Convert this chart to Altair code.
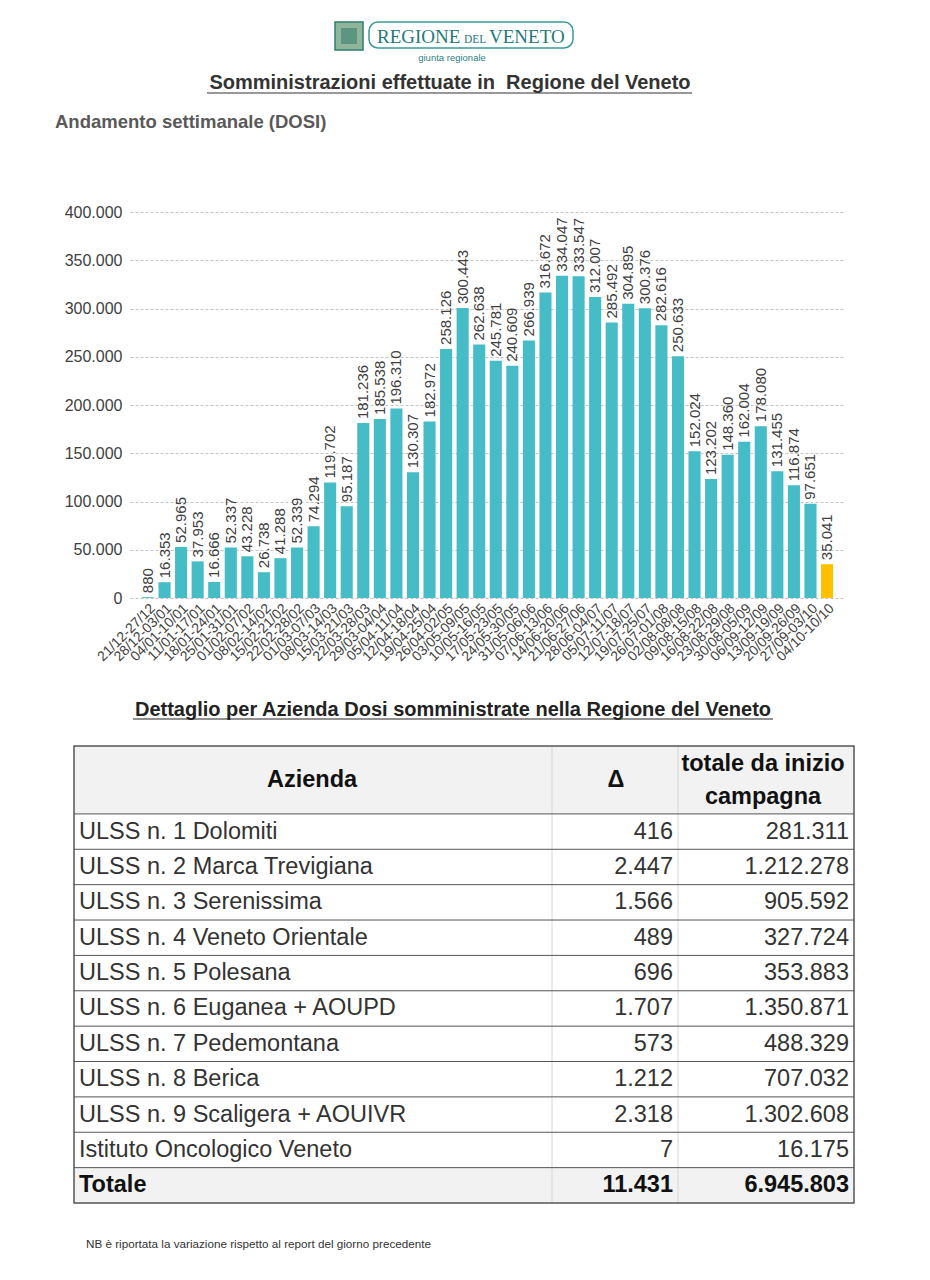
import altair as alt
import pandas as pd

# ---------------- data ----------------
weeks = [
    "21/12-27/12", "28/12-03/01", "04/01-10/01", "11/01-17/01", "18/01-24/01",
    "25/01-31/01", "01/02-07/02", "08/02-14/02", "15/02-21/02", "22/02-28/02",
    "01/03-07/03", "08/03-14/03", "15/03-21/03", "22/03-28/03", "29/03-04/04",
    "05/04-11/04", "12/04-18/04", "19/04-25/04", "26/04-02/05", "03/05-09/05",
    "10/05-16/05", "17/05-23/05", "24/05-30/05", "31/05-06/06", "07/06-13/06",
    "14/06-20/06", "21/06-27/06", "28/06-04/07", "05/07-11/07", "12/07-18/07",
    "19/07-25/07", "26/07-01/08", "02/08-08/08", "09/08-15/08", "16/08-22/08",
    "23/08-29/08", "30/08-05/09", "06/09-12/09", "13/09-19/09", "20/09-26/09",
    "27/09-03/10", "04/10-10/10",
]
doses = [
    880, 16353, 52965, 37953, 16666, 52337, 43228, 26738, 41288, 52339,
    74294, 119702, 95187, 181236, 185538, 196310, 130307, 182972, 258126, 300443,
    262638, 245781, 240609, 266939, 316672, 334047, 333547, 312007, 285492, 304895,
    300376, 282616, 250633, 152024, 123202, 148360, 162004, 178080, 131455, 116874,
    97651, 35041,
]
y_ticks = [0, 50000, 100000, 150000, 200000, 250000, 300000, 350000, 400000]

aziende = [
    "ULSS n. 1 Dolomiti", "ULSS n. 2 Marca Trevigiana", "ULSS n. 3 Serenissima",
    "ULSS n. 4 Veneto Orientale", "ULSS n. 5 Polesana", "ULSS n. 6 Euganea + AOUPD",
    "ULSS n. 7 Pedemontana", "ULSS n. 8 Berica", "ULSS n. 9 Scaligera + AOUIVR",
    "Istituto Oncologico Veneto",
]
delta = [416, 2447, 1566, 489, 696, 1707, 573, 1212, 2318, 7]
totale = [281311, 1212278, 905592, 327724, 353883, 1350871, 488329, 707032, 1302608, 16175]
totale_delta = 11431
totale_campagna = 6945803


def itfmt(v):
    return f"{v:,}".replace(",", ".")


FONT = "Liberation Sans"
TEAL = "#45BCC6"
ORANGE = "#FFC000"
TXT = "#404040"

# ---------------- bar chart ----------------
bars_df = pd.DataFrame({
    "week": weeks,
    "dosi": doses,
    "label": [itfmt(v) for v in doses],
    "tipo": ["parziale" if i == len(weeks) - 1 else "completa" for i in range(len(weeks))],
})

x_enc = alt.X(
    "week:N", sort=weeks,
    scale=alt.Scale(paddingInner=0.27, paddingOuter=0.72),
    axis=alt.Axis(title=None, labelAngle=-45, ticks=False, domain=False,
                  labelFontSize=14, labelColor=TXT, labelPadding=3, labelFont=FONT),
)
y_enc = alt.Y(
    "dosi:Q",
    scale=alt.Scale(domain=[0, 400000]),
    axis=alt.Axis(title=None, values=y_ticks, ticks=False, domain=False,
                  grid=True, gridDash=[3, 2], gridColor="#c4c4c4", gridWidth=1,
                  labelFontSize=16, labelColor=TXT, labelPadding=8, labelFont=FONT,
                  labelExpr="join(split(format(datum.value, ','), ','), '.')"),
)

bars = alt.Chart(bars_df).mark_bar().encode(
    x=x_enc, y=y_enc,
    color=alt.Color("tipo:N", scale=alt.Scale(domain=["completa", "parziale"],
                                              range=[TEAL, ORANGE]), legend=None),
)
bar_labels = alt.Chart(bars_df).mark_text(
    angle=270, align="left", baseline="middle", dx=4, fontSize=15,
    color=TXT, font=FONT,
).encode(x=alt.X("week:N", sort=weeks), y="dosi:Q", text="label:N")

one = alt.Data(values=[{"k": 0}])


def txt(s, x, y, **kw):
    return alt.Chart(one).mark_text(text=s, **kw).encode(x=alt.value(x), y=alt.value(y))


def box(x1, x2, y1, y2, **kw):
    return alt.Chart(one).mark_rect(**kw).encode(
        x=alt.value(x1), x2=alt.value(x2), y=alt.value(y1), y2=alt.value(y2))


def hline(x1, x2, y, **kw):
    return alt.Chart(one).mark_rule(**kw).encode(
        x=alt.value(x1), x2=alt.value(x2), y=alt.value(y))


header = [
    box(205, 233, -190, -162, fill="#8fb59c", stroke="#2f7f6f", strokeWidth=1.5),
    box(211, 227, -184, -168, fill="#4f8f7a", opacity=0.8),
    box(239, 443, -190, -164, fill="white", stroke="#3b9a9a", strokeWidth=1.5, cornerRadius=9),
    txt("REGIONE", 247, -169.5, align="left", baseline="alphabetic", fontSize=19,
        font="Liberation Serif", color="#1f7a7a"),
    txt("DEL", 334, -169.5, align="left", baseline="alphabetic", fontSize=11.5,
        font="Liberation Serif", color="#1f7a7a"),
    txt("VENETO", 359, -169.5, align="left", baseline="alphabetic", fontSize=19,
        font="Liberation Serif", color="#1f7a7a"),
    txt("giunta regionale", 322, -154, align="center", baseline="middle", fontSize=9.5,
        font=FONT, color="#2f7f7f"),
    txt("Somministrazioni effettuate in\u00a0 Regione del Veneto", 320, -129, align="center",
        baseline="middle", fontSize=20, fontWeight="bold", font=FONT, color="#333333"),
    hline(77, 562, -119, color="#333333", strokeWidth=1.2),
    txt("Andamento settimanale (DOSI)", -75, -90, align="left", baseline="middle",
        fontSize=18.5, fontWeight="bold", font=FONT, color="#595959"),
]

bar_chart = alt.layer(bars, bar_labels, *header).properties(width=715, height=386)

# ---------------- table ----------------
HEADER_ROWS = 1.92
N_ROWS = len(aziende) + 1
TL, TR = -56, 724        # table left / right, pixels from plot origin
C1, C2 = 422, 548        # column separators
TABLE_H = 457
TFS = 23.5

rows_df = pd.DataFrame({
    "name": aziende,
    "d": [itfmt(v) for v in delta],
    "t": [itfmt(v) for v in totale],
    "yc": [HEADER_ROWS + i + 0.5 for i in range(len(aziende))],
})
tot_df = pd.DataFrame({
    "name": ["Totale"], "d": [itfmt(totale_delta)], "t": [itfmt(totale_campagna)],
    "yc": [HEADER_ROWS + len(aziende) + 0.5],
})
bg_df = pd.DataFrame({"y0": [0, HEADER_ROWS + N_ROWS - 1], "y1": [HEADER_ROWS, HEADER_ROWS + N_ROWS]})
lines_df = pd.DataFrame({"yl": [HEADER_ROWS + i for i in range(N_ROWS)]})

ty = alt.Scale(domain=[0, HEADER_ROWS + N_ROWS], reverse=True)

t_bg = alt.Chart(bg_df).mark_rect(fill="#F2F2F2").encode(
    x=alt.value(TL), x2=alt.value(TR),
    y=alt.Y("y0:Q", scale=ty, axis=None), y2="y1:Q")
t_vlines = [
    alt.Chart(one).mark_rule(color="#d6d6d6", strokeWidth=1).encode(
        x=alt.value(cx), y=alt.value(0), y2=alt.value(TABLE_H))
    for cx in (C1, C2)
]
t_hlines = alt.Chart(lines_df).mark_rule(color="#555555", strokeWidth=1).encode(
    x=alt.value(TL), x2=alt.value(TR), y=alt.Y("yl:Q", scale=ty, axis=None))
t_border = box(TL, TR, 0, TABLE_H, fillOpacity=0, stroke="#555555", strokeWidth=1.5)


def col_text(df, field, x, align, bold):
    kw = dict(fontWeight="bold", color="#111111") if bold else dict(color="#333333")
    return alt.Chart(df).mark_text(align=align, baseline="middle", fontSize=TFS,
                                   font=FONT, **kw).encode(
        x=alt.value(x), y=alt.Y("yc:Q", scale=ty, axis=None), text=f"{field}:N")


t_texts = [
    col_text(rows_df, "name", -51, "left", False),
    col_text(rows_df, "d", 543, "right", False),
    col_text(rows_df, "t", 719, "right", False),
    col_text(tot_df, "name", -51, "left", True),
    col_text(tot_df, "d", 543, "right", True),
    col_text(tot_df, "t", 719, "right", True),
]
t_head = [
    txt("Azienda", 182, 34, align="center", baseline="middle", fontSize=TFS,
        fontWeight="bold", font=FONT, color="#111111"),
    txt("Δ", 486, 34, align="center", baseline="middle", fontSize=TFS,
        fontWeight="bold", font=FONT, color="#111111"),
    txt("totale da inizio", 633, 18, align="center", baseline="middle", fontSize=TFS,
        fontWeight="bold", font=FONT, color="#111111"),
    txt("campagna", 633, 51, align="center", baseline="middle", fontSize=TFS,
        fontWeight="bold", font=FONT, color="#111111"),
]
t_extra = [
    txt("Dettaglio per Azienda Dosi somministrate nella Regione del Veneto", 323, -36,
        align="center", baseline="middle", fontSize=20, fontWeight="bold", font=FONT,
        color="#222222"),
    hline(3, 643, -27, color="#222222", strokeWidth=1.2),
    txt("NB è riportata la variazione rispetto al report del giorno precedente", -44, 498,
        align="left", baseline="middle", fontSize=11.7, font=FONT, color="#333333"),
]

table_chart = alt.layer(t_bg, *t_vlines, t_hlines, t_border, *t_texts, *t_head, *t_extra
                        ).properties(width=715, height=TABLE_H)

chart = alt.vconcat(bar_chart, table_chart, spacing=36).properties(
    padding={"left": 47, "top": 13, "right": 0, "bottom": 0}
).configure_view(stroke=None)

chart.save("out.html", embed_options={"renderer": "svg", "actions": False})
